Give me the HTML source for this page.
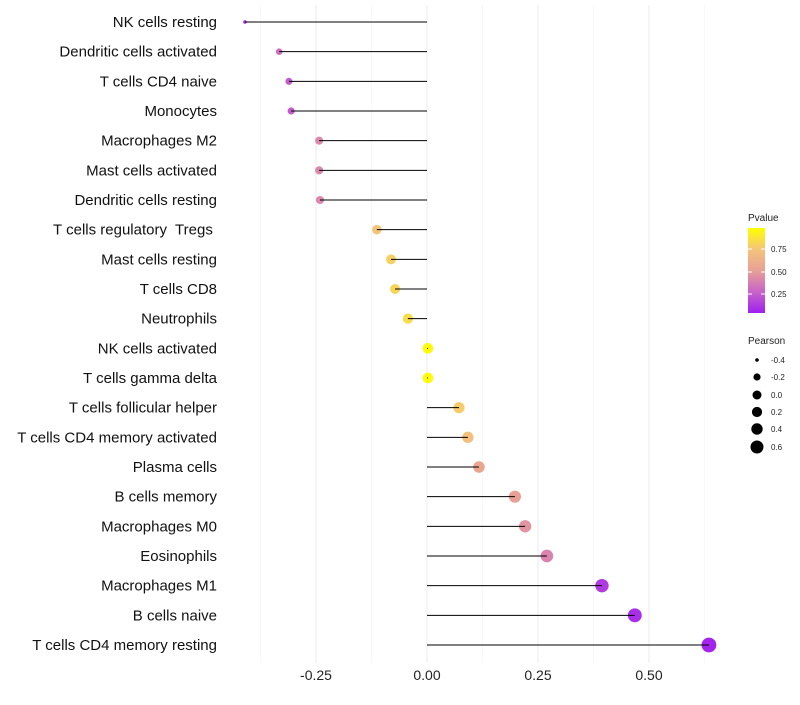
<!DOCTYPE html>
<html><head><meta charset="utf-8"><style>
body{margin:0;background:#fff;font-family:"Liberation Sans",sans-serif}
text{white-space:pre}
</style></head><body>
<svg id="chart" width="800" height="700">
<defs><linearGradient id="pg" x1="0" y1="1" x2="0" y2="0">
<stop offset="0" stop-color="#a020f0"/><stop offset="0.25" stop-color="#c864c8"/><stop offset="0.5" stop-color="#e8a096"/><stop offset="0.75" stop-color="#f4c47a"/><stop offset="1" stop-color="#ffff00"/></linearGradient></defs>
<g id="grid"></g><g id="marks"></g><g id="labels"></g>
<g>
<text x="748" y="221" font-size="10" fill="#222">Pvalue</text>
<rect x="748" y="228" width="17" height="85" fill="url(#pg)"/>
<line x1="748" y1="249" x2="752" y2="249" stroke="#fff"/><line x1="761" y1="249" x2="765" y2="249" stroke="#fff"/>
<line x1="748" y1="272" x2="752" y2="272" stroke="#fff"/><line x1="761" y1="272" x2="765" y2="272" stroke="#fff"/>
<line x1="748" y1="294" x2="752" y2="294" stroke="#fff"/><line x1="761" y1="294" x2="765" y2="294" stroke="#fff"/>
<text x="771" y="252" font-size="8" fill="#222">0.75</text>
<text x="771" y="275" font-size="8" fill="#222">0.50</text>
<text x="771" y="297" font-size="8" fill="#222">0.25</text>
</g>
<g>
<text x="748" y="344" font-size="10" fill="#222">Pearson</text>
<circle cx="757" cy="360" r="1.8"/><text x="771" y="363" font-size="8" fill="#222">-0.4</text>
<circle cx="757" cy="377" r="3.6"/><text x="771" y="380" font-size="8" fill="#222">-0.2</text>
<circle cx="757" cy="395" r="4.5"/><text x="771" y="398" font-size="8" fill="#222">0.0</text>
<circle cx="757" cy="412" r="5.1"/><text x="771" y="415" font-size="8" fill="#222">0.2</text>
<circle cx="757" cy="429" r="5.7"/><text x="771" y="432" font-size="8" fill="#222">0.4</text>
<circle cx="757" cy="447" r="6.5"/><text x="771" y="450" font-size="8" fill="#222">0.6</text>
</g>
</svg>
<script>
const categories=["NK cells resting","Dendritic cells activated","T cells CD4 naive","Monocytes","Macrophages M2","Mast cells activated","Dendritic cells resting","T cells regulatory  Tregs ","Mast cells resting","T cells CD8","Neutrophils","NK cells activated","T cells gamma delta","T cells follicular helper","T cells CD4 memory activated","Plasma cells","B cells memory","Macrophages M0","Eosinophils","Macrophages M1","B cells naive","T cells CD4 memory resting"];
const pearson=[-0.41,-0.333,-0.311,-0.306,-0.243,-0.243,-0.241,-0.113,-0.081,-0.072,-0.043,0.002,0.002,0.072,0.092,0.117,0.198,0.221,0.27,0.394,0.468,0.635];
const pvalue=[0.03,0.3,0.22,0.22,0.4,0.4,0.4,0.75,0.8,0.82,0.85,0.98,0.98,0.78,0.72,0.55,0.5,0.45,0.38,0.1,0.05,0.02];
const ticks=[-0.25,0,0.25,0.5];
const tickLabels=["-0.25","0.00","0.25","0.50"];
const NS="http://www.w3.org/2000/svg";
const xs=v=>427+v*444;
const ys=i=>22+i*(623/(categories.length-1));
const rs=v=>1.8+5.6*Math.sqrt(Math.max(0,v+0.41)/1.045);
function lerp(a,b,t){return a.map((x,i)=>Math.round(x+(b[i]-x)*t));}
const stops=[[0,[160,32,240]],[0.25,[200,100,200]],[0.5,[232,160,150]],[0.75,[244,196,122]],[1,[255,255,0]]];
function col(p){for(let k=1;k<stops.length;k++){if(p<=stops[k][0]){const t=(p-stops[k-1][0])/(stops[k][0]-stops[k-1][0]);const c=lerp(stops[k-1][1],stops[k][1],t);return `rgb(${c})`;}}return "rgb(255,255,0)";}
function mk(tag,attrs,parent){const e=document.createElementNS(NS,tag);for(const k in attrs)e.setAttribute(k,attrs[k]);parent.appendChild(e);return e;}
const grid=document.getElementById('grid'),marks=document.getElementById('marks'),labels=document.getElementById('labels');
[-0.375,-0.125,0.125,0.375,0.625].forEach(v=>{const l=mk('line',{x1:xs(v),x2:xs(v),y1:5,y2:663,stroke:'#f4f4f4','stroke-width':0.6},grid);

});
ticks.forEach((v,i)=>{const l=mk('line',{x1:xs(v),x2:xs(v),y1:5,y2:663,stroke:'#ebebeb','stroke-width':1},grid);


const t=mk('text',{x:xs(v),y:680,'font-size':14,'text-anchor':'middle',fill:'#222'},labels);t.textContent=tickLabels[i];

});
categories.forEach((c,i)=>{const y=ys(i);
const t=mk('text',{x:217,y:y+5,'font-size':15,'text-anchor':'end',fill:'#111'},labels);t.textContent=c;


const p=mk('circle',{cx:xs(pearson[i]),cy:y,r:rs(pearson[i]),fill:col(pvalue[i])},marks);


const l=mk('line',{x1:xs(0),x2:xs(pearson[i]),y1:y,y2:y,stroke:'#000','stroke-width':1},marks);


});
</script>
</body></html>
